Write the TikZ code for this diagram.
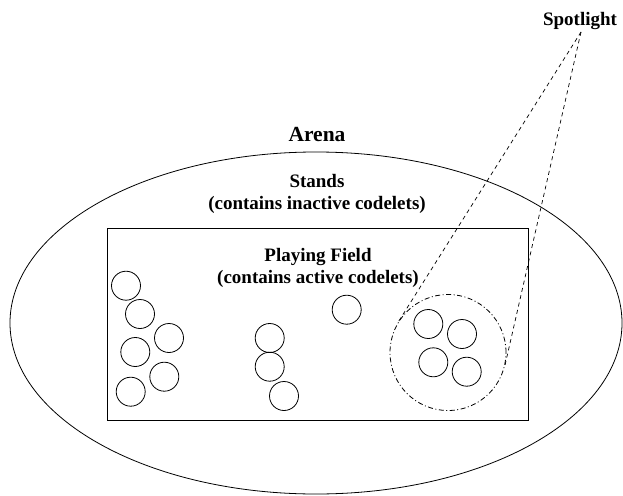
\documentclass[tikz,border=0pt]{standalone}
\usepackage{fontspec}
\setmainfont{Liberation Serif}
\usetikzlibrary{shapes.geometric,calc}
\begin{document}
\begin{tikzpicture}[x=1pt,y=-1pt,
  lbl/.style={font=\fontsize{19}{22}\selectfont\bfseries, align=center, inner sep=0},
  biglbl/.style={font=\fontsize{21.5}{24}\selectfont\bfseries, inner sep=0},
  codelet/.style={circle, draw, line width=0.8pt, minimum size=29pt, inner sep=0},
  beam/.style={line width=0.7pt, dash pattern=on 4pt off 3.5pt},
  spotring/.style={circle, draw, line width=0.8pt, dash pattern=on 5pt off 2.5pt on 1pt off 2.5pt, minimum size=116pt, inner sep=0}]
\useasboundingbox (0,0) rectangle (623,495);
% arena and field
\node[ellipse, draw, line width=0.8pt, minimum width=612pt, minimum height=342pt, inner sep=0] (arena) at (316,323) {};
\node[draw, line width=1pt, minimum width=421pt, minimum height=192pt, inner sep=0] (field) at (317.5,324) {};
% labels
\node[biglbl] (arenalbl) at (317,135) {Arena};
\node[lbl] (stands) at (317,194) {Stands\\(contains inactive codelets)};
\node[lbl] (playing) at (318,268) {Playing Field\\(contains active codelets)};
\node[lbl] (spotlbl) at (580,21) {Spotlight};
% codelets
\node[codelet] (c1) at (126,285.7) {};
\node[codelet] (c2) at (140,314) {};
\node[codelet] (c3) at (169,338) {};
\node[codelet] (c4) at (135.3,352) {};
\node[codelet] (c5) at (164.3,376.7) {};
\node[codelet] (c6) at (130.7,391.7) {};
\node[codelet] (c7) at (269.7,338) {};
\node[codelet] (c8) at (269.7,366.7) {};
\node[codelet] (c9) at (284,396) {};
\node[codelet] (c10) at (346.7,309.7) {};
\node[codelet] (d1) at (428.3,324) {};
\node[codelet] (d2) at (462,334) {};
\node[codelet] (d3) at (433.3,362.3) {};
\node[codelet] (d4) at (466.7,371.7) {};
% spotlight
\node[spotring] (spot) at (448,352.5) {};
\coordinate (apex) at (581,32);
\draw[beam] (apex) -- (tangent cs:node=spot,point={(apex)},solution=1);
\draw[beam] (apex) -- (tangent cs:node=spot,point={(apex)},solution=2);
\end{tikzpicture}
\end{document}
